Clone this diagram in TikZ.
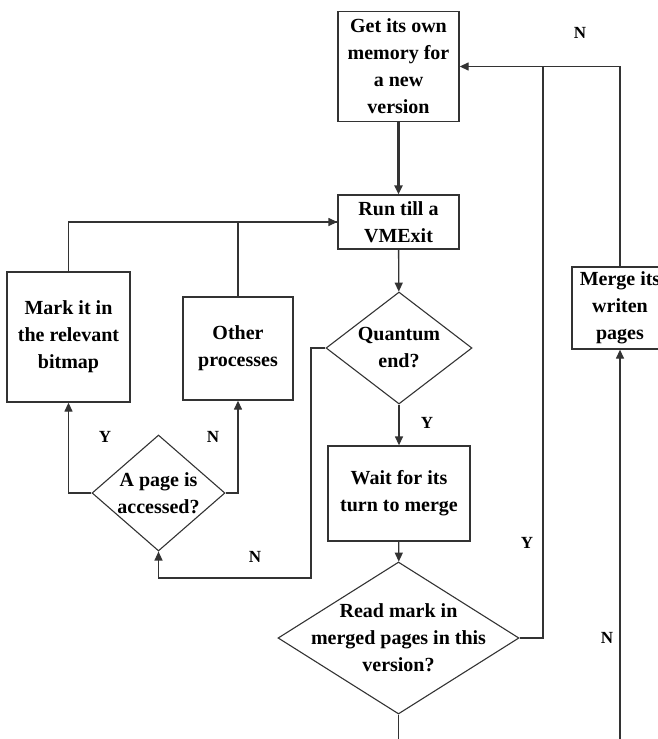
\documentclass[tikz,border=0pt]{standalone}
\usepackage{fontspec}
\setmainfont{Liberation Serif}
\usetikzlibrary{shapes.geometric,arrows.meta}
\begin{document}
\begin{tikzpicture}[x=1pt,y=-1pt,
  every node/.style={font=\bfseries\fontsize{20}{27}\selectfont},
  box/.style={draw=black!80,line width=1.3pt,inner sep=0pt,align=center},
  dia/.style={draw=black!80,line width=1.1pt,diamond,inner sep=0pt},
  txt/.style={align=center,inner sep=0pt},
  lbl/.style={font=\bfseries\fontsize{17}{20}\selectfont,inner sep=0pt},
  con/.style={draw=black!80,line width=1.3pt},
  arr/.style={con,-{Triangle[length=9pt,width=8pt]}}]
\useasboundingbox (0,0) rectangle (658,739);
\clip (0,0) rectangle (658,739);
\node[box,minimum width=121pt,minimum height=110pt] (get) at (398.5,66.5) {Get its own\\memory for\\a new\\version};
\node[box,minimum width=121pt,minimum height=54pt] (run) at (398.5,222) {Run till a\\VMExit};
\node[dia,minimum width=146pt,minimum height=112pt] (q) at (399,348) {};
\node[txt] at (q) {Quantum\\end?};
\node[box,minimum width=142pt,minimum height=95pt] (wait) at (399,493.5) {Wait for its\\turn to merge};
\node[dia,minimum width=241pt,minimum height=152pt] (read) at (398.5,638) {};
\node[txt] at (read) {Read mark in\\merged pages in this\\version?};
\node[box,minimum width=96pt,minimum height=82pt] (merge) at (620,308) {Merge its\\writen\\pages};
\node[box,minimum width=123pt,minimum height=130pt] (mark) at (68.5,337) {Mark it in\\the relevant\\bitmap};
\node[box,minimum width=110pt,minimum height=103pt] (other) at (238,348.5) {Other\\processes};
\node[dia,minimum width=133pt,minimum height=116pt] (ap) at (158.5,493) {};
\node[txt] at (ap) {A page is\\accessed?};
\coordinate (j1) at (543,66.5);
\coordinate (c1) at (311,578);
% connectors
\draw[arr,line width=2.6pt] (get) -- (run);
\draw[arr] (run) -- (q);
\draw[arr] (q) -- (wait);
\draw[arr] (wait) -- (read);
\draw[arr] (read.east) -| (j1) -- (get.east);
\draw[arr] (read.south) -- ++(0,40) -| (merge.south);
\draw[con] (merge.north) |- (j1);
\draw[arr] (mark.north) |- (run.west);
\draw[con] (other.north) |- (run.west);
\draw[arr] (ap.west) -| (mark.south);
\draw[arr] (ap.east) -| (other.south);
\draw[arr] (q.west) -| (c1) -| (ap.south);
% labels
\node[lbl] at (580,33) {N};
\node[lbl] at (427,423) {Y};
\node[lbl] at (105,437) {Y};
\node[lbl] at (213,437) {N};
\node[lbl] at (255,557) {N};
\node[lbl] at (527,543) {Y};
\node[lbl] at (607,638) {N};
\end{tikzpicture}
\end{document}
